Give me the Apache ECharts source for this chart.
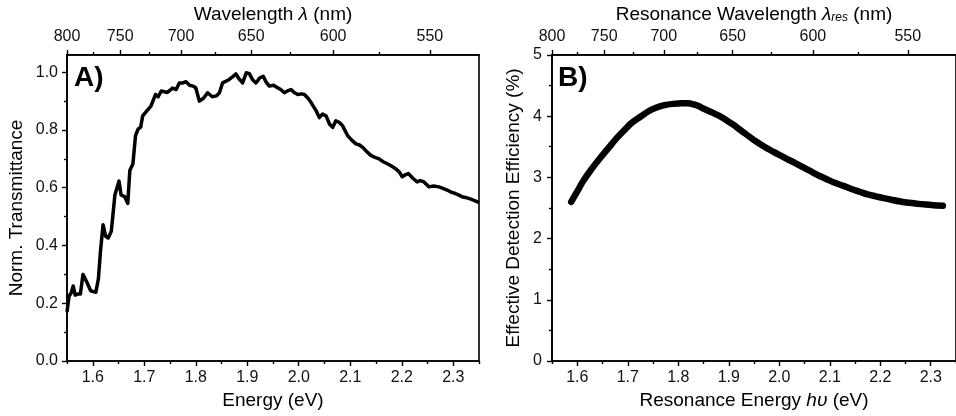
<!DOCTYPE html>
<html>
<head>
<meta charset="utf-8">
<script src="https://cdn.jsdelivr.net/npm/echarts@6/dist/echarts.min.js"></script>
<style>
  html, body { margin: 0; padding: 0; background: #fff; }
  #dom { width: 956px; height: 416px; }
</style>
</head>
<body>
<div id="dom"></div>
<script>
// panel A: transmittance vs photon energy
var energyA = [1.550, 1.554, 1.558, 1.562, 1.566, 1.571, 1.576, 1.581, 1.588, 1.596,
  1.606, 1.611, 1.615, 1.620, 1.625, 1.630, 1.636, 1.643, 1.651, 1.655,
  1.662, 1.668, 1.672, 1.678, 1.683, 1.688, 1.693, 1.697, 1.705, 1.713,
  1.722, 1.727, 1.733, 1.745, 1.755, 1.762, 1.768, 1.775, 1.781, 1.788,
  1.795, 1.800, 1.807, 1.815, 1.823, 1.832, 1.840, 1.846, 1.852, 1.859,
  1.865, 1.872, 1.878, 1.885, 1.891, 1.898, 1.904, 1.910, 1.917, 1.924,
  1.931, 1.937, 1.943, 1.951, 1.959, 1.965, 1.972, 1.978, 1.985, 1.991,
  1.998, 2.005, 2.011, 2.018, 2.024, 2.029, 2.034, 2.040, 2.046, 2.053,
  2.060, 2.066, 2.072, 2.079, 2.085, 2.095, 2.103, 2.111, 2.118, 2.124,
  2.132, 2.140, 2.148, 2.156, 2.164, 2.172, 2.180, 2.188, 2.195, 2.201,
  2.207, 2.213, 2.222, 2.230, 2.236, 2.243, 2.253, 2.262, 2.272, 2.280,
  2.288, 2.296, 2.304, 2.310, 2.317, 2.324, 2.330, 2.338, 2.346, 2.350];
var transA = [0.170, 0.225, 0.235, 0.260, 0.228, 0.232, 0.232, 0.300, 0.275, 0.243,
  0.238, 0.285, 0.380, 0.472, 0.432, 0.426, 0.449, 0.575, 0.623, 0.575,
  0.569, 0.546, 0.660, 0.683, 0.780, 0.803, 0.810, 0.849, 0.866, 0.883,
  0.923, 0.915, 0.935, 0.930, 0.945, 0.940, 0.963, 0.963, 0.967, 0.955,
  0.952, 0.946, 0.900, 0.910, 0.929, 0.915, 0.918, 0.929, 0.963, 0.969,
  0.975, 0.985, 0.994, 0.975, 0.963, 0.998, 0.995, 0.975, 0.963, 0.980,
  0.986, 0.965, 0.952, 0.955, 0.946, 0.940, 0.929, 0.935, 0.940, 0.930,
  0.923, 0.925, 0.923, 0.910, 0.895, 0.880, 0.866, 0.843, 0.855, 0.849,
  0.820, 0.809, 0.832, 0.826, 0.815, 0.780, 0.765, 0.752, 0.748, 0.740,
  0.725, 0.712, 0.705, 0.700, 0.690, 0.683, 0.675, 0.666, 0.655, 0.638,
  0.645, 0.649, 0.632, 0.620, 0.625, 0.620, 0.603, 0.606, 0.603, 0.598,
  0.592, 0.585, 0.580, 0.575, 0.569, 0.566, 0.563, 0.558, 0.552, 0.548];

// panel B: effective detection efficiency vs resonance energy
var energyB = [1.588, 1.600, 1.611, 1.627, 1.643, 1.660, 1.676, 1.692, 1.708, 1.725,
  1.741, 1.757, 1.773, 1.790, 1.806, 1.820, 1.831, 1.841, 1.851, 1.867,
  1.883, 1.896, 1.909, 1.922, 1.935, 1.948, 1.965, 1.981, 1.997, 2.013,
  2.030, 2.046, 2.062, 2.078, 2.094, 2.110, 2.127, 2.143, 2.159, 2.175,
  2.191, 2.207, 2.224, 2.240, 2.256, 2.272, 2.290, 2.305, 2.324];
var effB = [2.60, 2.77, 2.93, 3.12, 3.29, 3.46, 3.62, 3.76, 3.89, 3.99,
  4.08, 4.14, 4.18, 4.20, 4.21, 4.21, 4.19, 4.16, 4.12, 4.06,
  3.995, 3.93, 3.86, 3.78, 3.70, 3.62, 3.53, 3.45, 3.38, 3.31,
  3.24, 3.17, 3.10, 3.03, 2.97, 2.91, 2.86, 2.81, 2.765, 2.72,
  2.69, 2.66, 2.63, 2.605, 2.585, 2.57, 2.555, 2.545, 2.535];

// tick values
var energyTicks = [1.6, 1.7, 1.8, 1.9, 2.0, 2.1, 2.2, 2.3];
var energyMinor = [1.55, 1.65, 1.75, 1.85, 1.95, 2.05, 2.15, 2.25, 2.35];
var wavelengthTicks = [800, 750, 700, 650, 600, 550];
var wavelengthMinor = [775, 725, 675, 625, 575];
var transTicks = [0, 0.2, 0.4, 0.6, 0.8, 1.0];
var transMinor = [0.1, 0.3, 0.5, 0.7, 0.9];
var effTicks = [0, 1, 2, 3, 4, 5];
var effMinor = [0.5, 1.5, 2.5, 3.5, 4.5];

var HC = 1240; // eV*nm
function toEnergy(list) {
  return list.map(function (l) { return HC / l; });
}

var font = 'Liberation Sans, Arial, sans-serif';
var black = '#000';

function makeAxis(grid, pos, min, max, ticks, isMinor, extra) {
  var ax = {
    type: 'value',
    gridIndex: grid,
    position: pos,
    min: min,
    max: max,
    splitLine: { show: false },
    axisLine: { show: !isMinor, onZero: false, lineStyle: { color: black, width: 1.6 } },
    axisTick: {
      show: true, inside: false, length: isMinor ? 3 : 5,
      customValues: ticks,
      lineStyle: { color: black, width: 1.4 }
    },
    axisLabel: { show: false }
  };
  if (!isMinor) {
    ax.axisLabel = {
      show: true, customValues: ticks, fontFamily: font, fontSize: 16,
      color: '#111', margin: 9
    };
  }
  if (extra) {
    for (var k in extra) {
      if (k === 'axisLabel') {
        for (var j in extra.axisLabel) ax.axisLabel[j] = extra.axisLabel[j];
      } else {
        ax[k] = extra[k];
      }
    }
  }
  return ax;
}

var nameStyle = {
  fontFamily: font, fontSize: 19, color: black,
  rich: {
    i: { fontFamily: font, fontSize: 19, fontStyle: 'italic', color: black },
    sub: { fontFamily: font, fontSize: 12, fontStyle: 'italic', color: black, verticalAlign: 'bottom' }
  }
};

function fmt1(v) { return v.toFixed(1); }
function fmtWl(v) { return String(Math.round(HC / v)); }

var xAxes = [
  // grid 0
  makeAxis(0, 'bottom', 1.55, 2.35, energyTicks, false, {
    name: 'Energy (eV)', nameLocation: 'middle', nameGap: 26, nameTextStyle: nameStyle,
    axisLabel: { formatter: fmt1 }
  }),
  makeAxis(0, 'bottom', 1.55, 2.35, energyMinor, true),
  makeAxis(0, 'top', 1.55, 2.35, toEnergy(wavelengthTicks), false, {
    name: 'Wavelength {i|λ} (nm)', nameLocation: 'middle', nameGap: 29, nameTextStyle: nameStyle,
    axisLabel: { formatter: fmtWl, margin: 10 }
  }),
  makeAxis(0, 'top', 1.55, 2.35, toEnergy(wavelengthMinor), true),
  // grid 1
  makeAxis(1, 'bottom', 1.55, 2.35, energyTicks, false, {
    name: 'Resonance Energy {i|hυ} (eV)', nameLocation: 'middle', nameGap: 26, nameTextStyle: nameStyle,
    axisLabel: { formatter: fmt1 }
  }),
  makeAxis(1, 'bottom', 1.55, 2.35, energyMinor, true),
  makeAxis(1, 'top', 1.55, 2.35, toEnergy(wavelengthTicks), false, {
    name: 'Resonance Wavelength {i|λ}{sub|res} (nm)', nameLocation: 'middle', nameGap: 29, nameTextStyle: nameStyle,
    axisLabel: { formatter: fmtWl, margin: 10 }
  }),
  makeAxis(1, 'top', 1.55, 2.35, toEnergy(wavelengthMinor), true)
];

var yAxes = [
  makeAxis(0, 'left', 0, 1.06, transTicks, false, {
    name: 'Norm. Transmittance', nameLocation: 'middle', nameGap: 41, nameTextStyle: nameStyle,
    axisLabel: { formatter: fmt1 }
  }),
  makeAxis(0, 'left', 0, 1.06, transMinor, true),
  makeAxis(1, 'left', 0, 5, effTicks, false, {
    name: 'Effective Detection Efficiency (%)', nameLocation: 'middle', nameGap: 29, nameTextStyle: nameStyle,
    axisLabel: { formatter: function (v) { return String(Math.round(v)); }, margin: 10 }
  }),
  makeAxis(1, 'left', 0, 5, effMinor, true)
];

var myChart = echarts.init(document.getElementById('dom'));

var option = {
  animation: false,
  backgroundColor: '#fff',
  grid: [
    { left: 67, top: 53, width: 412, height: 308, show: true, borderColor: black, borderWidth: 1.6, backgroundColor: 'transparent' },
    { left: 552, top: 53, width: 411, height: 308, show: true, borderColor: black, borderWidth: 1.6, backgroundColor: 'transparent' }
  ],
  xAxis: xAxes,
  yAxis: yAxes,
  graphic: [
    { type: 'text', left: 74, top: 64, style: { text: 'A)', font: 'bold 28px Liberation Sans, Arial', fill: black } },
    { type: 'text', left: 558, top: 64, style: { text: 'B)', font: 'bold 28px Liberation Sans, Arial', fill: black } }
  ],
  series: [
    {
      name: 'transmittance',
      type: 'line',
      xAxisIndex: 0,
      yAxisIndex: 0,
      showSymbol: false,
      lineStyle: { color: black, width: 3.5, join: 'round' },
      data: energyA.map(function (e, i) { return [e, transA[i]]; })
    },
    {
      name: 'efficiency',
      type: 'line',
      xAxisIndex: 4,
      yAxisIndex: 2,
      showSymbol: false,
      smooth: 0.3,
      lineStyle: { color: black, width: 6.5, cap: 'round', join: 'round' },
      data: energyB.map(function (e, i) { return [e, effB[i]]; })
    }
  ]
};
myChart.setOption(option);
</script>
</body>
</html>
